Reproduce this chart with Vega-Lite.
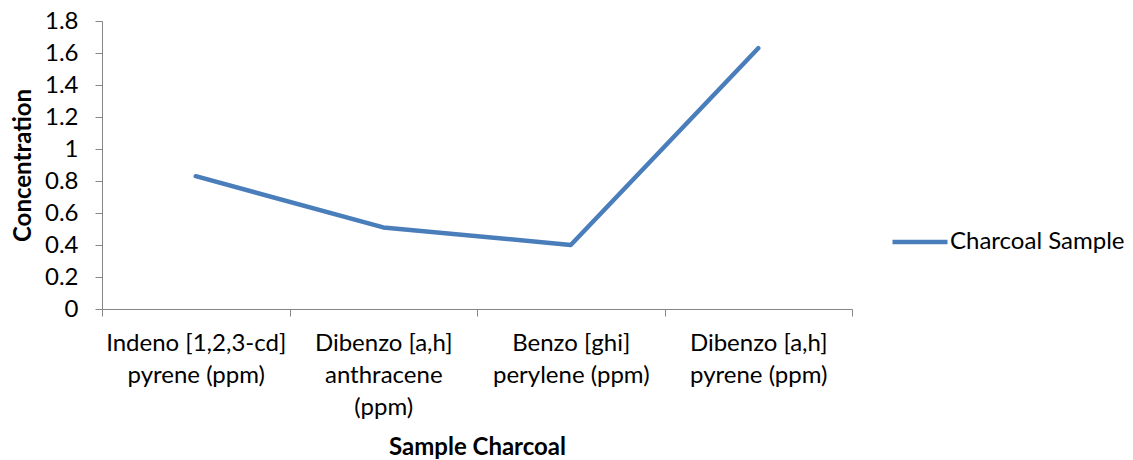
{
  "$schema": "https://vega.github.io/schema/vega-lite/v6.json",
  "width": 750,
  "height": 288,
  "autosize": {"type": "none"},
  "padding": {"left": 102, "top": 21, "right": 281, "bottom": 151},
  "background": "white",
  "config": {
    "view": {"stroke": null},
    "font": "Lato",
    "axis": {"labelFont": "Lato", "titleFont": "Lato", "labelColor": "#000", "titleColor": "#000", "domainColor": "#868686", "tickColor": "#868686", "grid": false}
  },
  "data": {
    "values": [
      {"compound": "Indeno [1,2,3-cd] pyrene (ppm)", "series": "Charcoal Sample", "value": 0.83},
      {"compound": "Dibenzo [a,h] anthracene (ppm)", "series": "Charcoal Sample", "value": 0.51},
      {"compound": "Benzo [ghi] perylene (ppm)", "series": "Charcoal Sample", "value": 0.40},
      {"compound": "Dibenzo [a,h] pyrene (ppm)", "series": "Charcoal Sample", "value": 1.63}
    ]
  },
  "mark": {"type": "line", "strokeWidth": 4.5, "strokeCap": "round", "strokeJoin": "round"},
  "encoding": {
    "x": {
      "field": "compound",
      "type": "nominal",
      "sort": null,
      "bandPosition": 0.5,
      "scale": {"type": "band", "paddingInner": 0, "paddingOuter": 0},
      "axis": {
        "title": "Sample Charcoal",
        "titleFontSize": 24,
        "titleFontWeight": "bold",
        "titlePadding": 16,
        "labelAngle": 0,
        "labelFontSize": 24,
        "labelPadding": 15,
        "labelLineHeight": 32,
        "labelLimit": 0,
        "labelOverlap": false,
        "labelBound": false,
        "tickBand": "extent",
        "tickSize": 7,
        "labelExpr": "datum.value == 'Indeno [1,2,3-cd] pyrene (ppm)' ? ['Indeno [1,2,3-cd]', 'pyrene (ppm)'] : datum.value == 'Dibenzo [a,h] anthracene (ppm)' ? ['Dibenzo [a,h]', 'anthracene', '(ppm)'] : datum.value == 'Benzo [ghi] perylene (ppm)' ? ['Benzo [ghi]', 'perylene (ppm)'] : datum.value == 'Dibenzo [a,h] pyrene (ppm)' ? ['Dibenzo [a,h]', 'pyrene (ppm)'] : ''"
      }
    },
    "y": {
      "field": "value",
      "type": "quantitative",
      "scale": {"domain": [0, 1.8], "nice": false},
      "axis": {
        "title": "Concentration",
        "titleFontSize": 24,
        "titleFontWeight": "bold",
        "titlePadding": 9,
        "values": [0, 0.2, 0.4, 0.6, 0.8, 1, 1.2, 1.4, 1.6, 1.8],
        "format": ".1~f",
        "labelFontSize": 24,
        "tickSize": 7,
        "labelPadding": 17
      }
    },
    "color": {
      "field": "series",
      "type": "nominal",
      "scale": {"range": ["#4A7EBB"]},
      "legend": {
        "title": null,
        "orient": "none",
        "legendX": 788,
        "legendY": 191,
        "symbolType": "stroke",
        "symbolSize": 3025,
        "symbolStrokeWidth": 4.5,
        "labelFontSize": 24,
        "labelFont": "Lato",
        "labelColor": "#000",
        "labelLimit": 0,
        "labelOffset": 0
      }
    }
  }
}
